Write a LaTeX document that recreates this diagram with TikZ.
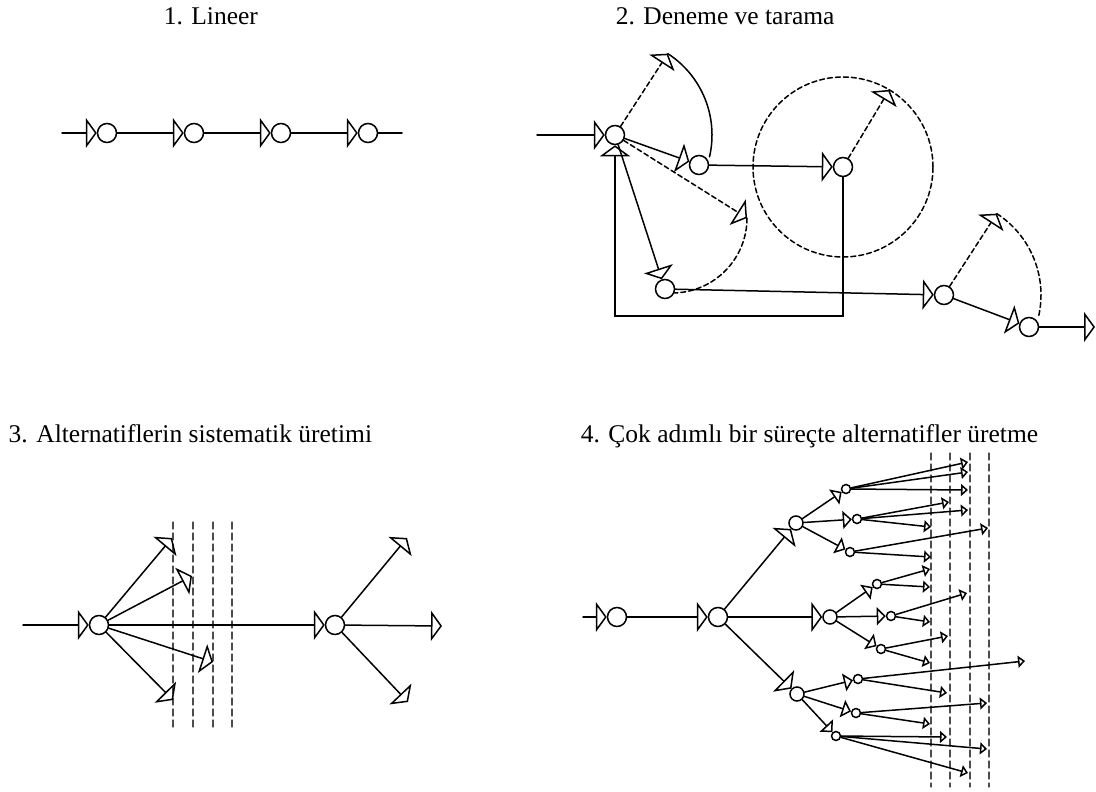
\documentclass[tikz,border=0pt]{standalone}
\usepackage{fontspec}
\setmainfont{Liberation Serif}
\usetikzlibrary{arrows.meta,calc}
\definecolor{guide}{rgb}{0.3,0.3,0.3}

\begin{document}
\begin{tikzpicture}[x=1pt, y=1pt, line width=1.5pt, line cap=round,
  nd/.style={circle, draw, minimum size=19pt, inner sep=0pt},
  ndm/.style={circle, draw, minimum size=14pt, inner sep=0pt},
  nds/.style={circle, draw, minimum size=9pt, inner sep=0pt},
  tri/.style={-{Triangle[open, length=11pt, width=30pt]}},
  trim/.style={-{Triangle[open, length=9pt, width=18pt]}},
  tris/.style={-{Triangle[open, length=7pt, width=12pt]}},
  dsh/.style={dash pattern=on 5pt off 3pt},
  gl/.style={guide, line width=1.2pt, dash pattern=on 7pt off 4pt},
  ttl/.style={anchor=base west, inner sep=0pt, font=\fontsize{25.5}{30}\selectfont}]
\useasboundingbox (0,0) rectangle (1096,-792);
% ---------- 1. Lineer ----------
\node[ttl] (t1) at (163,-25) {1. Lineer};
\coordinate (in1) at (62,-133);
\node[nd] (p1) at (107,-133) {};
\node[nd] (p2) at (194,-133) {};
\node[nd] (p3) at (281,-133) {};
\node[nd] (p4) at (368,-133) {};
\coordinate (out1) at (402,-133);
\draw[tri] (in1) -- (p1);
\draw[tri] (p1) -- (p2);
\draw[tri] (p2) -- (p3);
\draw[tri] (p3) -- (p4);
\draw (p4) -- (out1);
% ---------- 2. Deneme ve tarama ----------
\node[ttl] (t2) at (615,-25) {2. Deneme ve tarama};
\coordinate (in2) at (537,-135);
\node[nd] (A) at (615,-135) {};
\node[nd] (B) at (699,-165) {};
\node[nd] (C) at (665,-289) {};
\node[nd] (D) at (843,-167) {};
\node[nd] (E) at (944,-295) {};
\node[nd] (F) at (1029,-327) {};
\coordinate (out2) at (1095,-327);
\coordinate (lp) at (615,-316);
\coordinate (a1) at ($(A)+(57:97pt)$);
\coordinate (a2) at (747,-218);
\coordinate (d1) at ($(D)+(59:90pt)$);
\coordinate (e1) at ($(E)+(57:97pt)$);
\draw[tri] (in2) -- (A);
\draw[tri] (A) -- (B);
\draw[tri] (A) -- (C);
\draw[tri] (B) -- (D);
\draw[tri] (C) -- (E);
\draw[tri] (E) -- (F);
\draw[tri] (F) -- (out2);
\draw[tri] (D.south) |- (lp) -- (A.south);
% deneme dallari
\draw[tri, dsh] (A) -- (a1);
\draw (a1) arc[start angle=57, end angle=-13, radius=97pt];
\draw[tri, dsh] (A) -- (a2);
\draw[dsh] (a2) arc[start angle=0, end angle=-88, radius=75pt];
\draw[dsh] (D) circle[radius=90pt];
\draw[tri, dsh] (D) -- (d1);
\draw[tri, dsh] (E) -- (e1);
\draw[dsh] (e1) arc[start angle=57, end angle=-13, radius=97pt];
% ---------- 3. Alternatiflerin sistematik uretimi ----------
\node[ttl] (t3) at (8,-442) {3. Alternatiflerin sistematik üretimi};
\draw[gl] (173,-522) -- (173,-729);
\draw[gl] (193,-522) -- (193,-729);
\draw[gl] (213,-522) -- (213,-729);
\draw[gl] (232,-522) -- (232,-729);
\coordinate (in3) at (23,-625);
\node[nd] (G) at (99,-625) {};
\node[nd] (H) at (335,-625) {};
\coordinate (g1) at (172,-538);
\coordinate (g2) at (192,-576);
\coordinate (g3) at (213,-662);
\coordinate (g4) at (173,-700);
\coordinate (h1) at (407,-538);
\coordinate (h2) at (442,-626);
\coordinate (h3) at (408,-702);
\draw[tri] (in3) -- (G);
\draw[tri] (G) -- (H);
\draw[tri] (G) -- (g1);
\draw[tri] (G) -- (g2);
\draw[tri] (G) -- (g3);
\draw[tri] (G) -- (g4);
\draw[tri] (H) -- (h1);
\draw[tri] (H) -- (h2);
\draw[tri] (H) -- (h3);
% ---------- 4. Cok adimli bir surecte alternatifler uretme ----------
\node[ttl] (t4) at (580,-442) {4. Çok adımlı bir süreçte alternatifler üretme};
\draw[gl] (931,-453) -- (931,-787);
\draw[gl] (950,-453) -- (950,-787);
\draw[gl] (970,-453) -- (970,-787);
\draw[gl] (989,-453) -- (989,-787);
\coordinate (in4) at (583,-617);
\node[nd] (I) at (617,-617) {};
\node[nd] (J) at (718,-617) {};
\node[ndm] (K) at (796,-523) {};
\node[ndm] (L) at (830,-617) {};
\node[ndm] (M) at (797,-694) {};
\node[nds] (K1) at (846,-489) {};
\node[nds] (K2) at (857,-519) {};
\node[nds] (K3) at (850,-552) {};
\node[nds] (L1) at (877,-584) {};
\node[nds] (L2) at (891,-616) {};
\node[nds] (L3) at (881,-649) {};
\node[nds] (M1) at (858,-679) {};
\node[nds] (M2) at (856,-713) {};
\node[nds] (M3) at (836,-736) {};
\draw[tri] (in4) -- (I);
\draw[tri] (I) -- (J);
\draw[tri] (J) -- (K);
\draw[tri] (J) -- (L);
\draw[tri] (J) -- (M);
\draw[trim] (K) -- (K1);
\draw[trim] (K) -- (K2);
\draw[trim] (K) -- (K3);
\draw[trim] (L) -- (L1);
\draw[trim] (L) -- (L2);
\draw[trim] (L) -- (L3);
\draw[trim] (M) -- (M1);
\draw[trim] (M) -- (M2);
\draw[trim] (M) -- (M3);
% uc dallar
\coordinate (k1a) at (968,-462);
\coordinate (k1b) at (968,-472);
\coordinate (k1c) at (968,-490);
\coordinate (k2a) at (949,-502);
\coordinate (k2b) at (968,-510);
\coordinate (k2c) at (931,-527);
\coordinate (k3a) at (988,-528);
\coordinate (k3b) at (931,-557);
\coordinate (l1a) at (930,-569);
\coordinate (l1b) at (930,-587);
\coordinate (l2a) at (967,-593);
\coordinate (l2b) at (930,-622);
\coordinate (l3a) at (948,-636);
\coordinate (l3b) at (930,-663);
\coordinate (m1a) at (1025,-661);
\coordinate (m1b) at (947,-693);
\coordinate (m2a) at (987,-703);
\coordinate (m2b) at (930,-724);
\coordinate (m3a) at (947,-737);
\coordinate (m3b) at (987,-749);
\coordinate (m3c) at (968,-773);
\draw[tris] (K1) -- (k1a);
\draw[tris] (K1) -- (k1b);
\draw[tris] (K1) -- (k1c);
\draw[tris] (K2) -- (k2a);
\draw[tris] (K2) -- (k2b);
\draw[tris] (K2) -- (k2c);
\draw[tris] (K3) -- (k3a);
\draw[tris] (K3) -- (k3b);
\draw[tris] (L1) -- (l1a);
\draw[tris] (L1) -- (l1b);
\draw[tris] (L2) -- (l2a);
\draw[tris] (L2) -- (l2b);
\draw[tris] (L3) -- (l3a);
\draw[tris] (L3) -- (l3b);
\draw[tris] (M1) -- (m1a);
\draw[tris] (M1) -- (m1b);
\draw[tris] (M2) -- (m2a);
\draw[tris] (M2) -- (m2b);
\draw[tris] (M3) -- (m3a);
\draw[tris] (M3) -- (m3b);
\draw[tris] (M3) -- (m3c);
\end{tikzpicture}
\end{document}
